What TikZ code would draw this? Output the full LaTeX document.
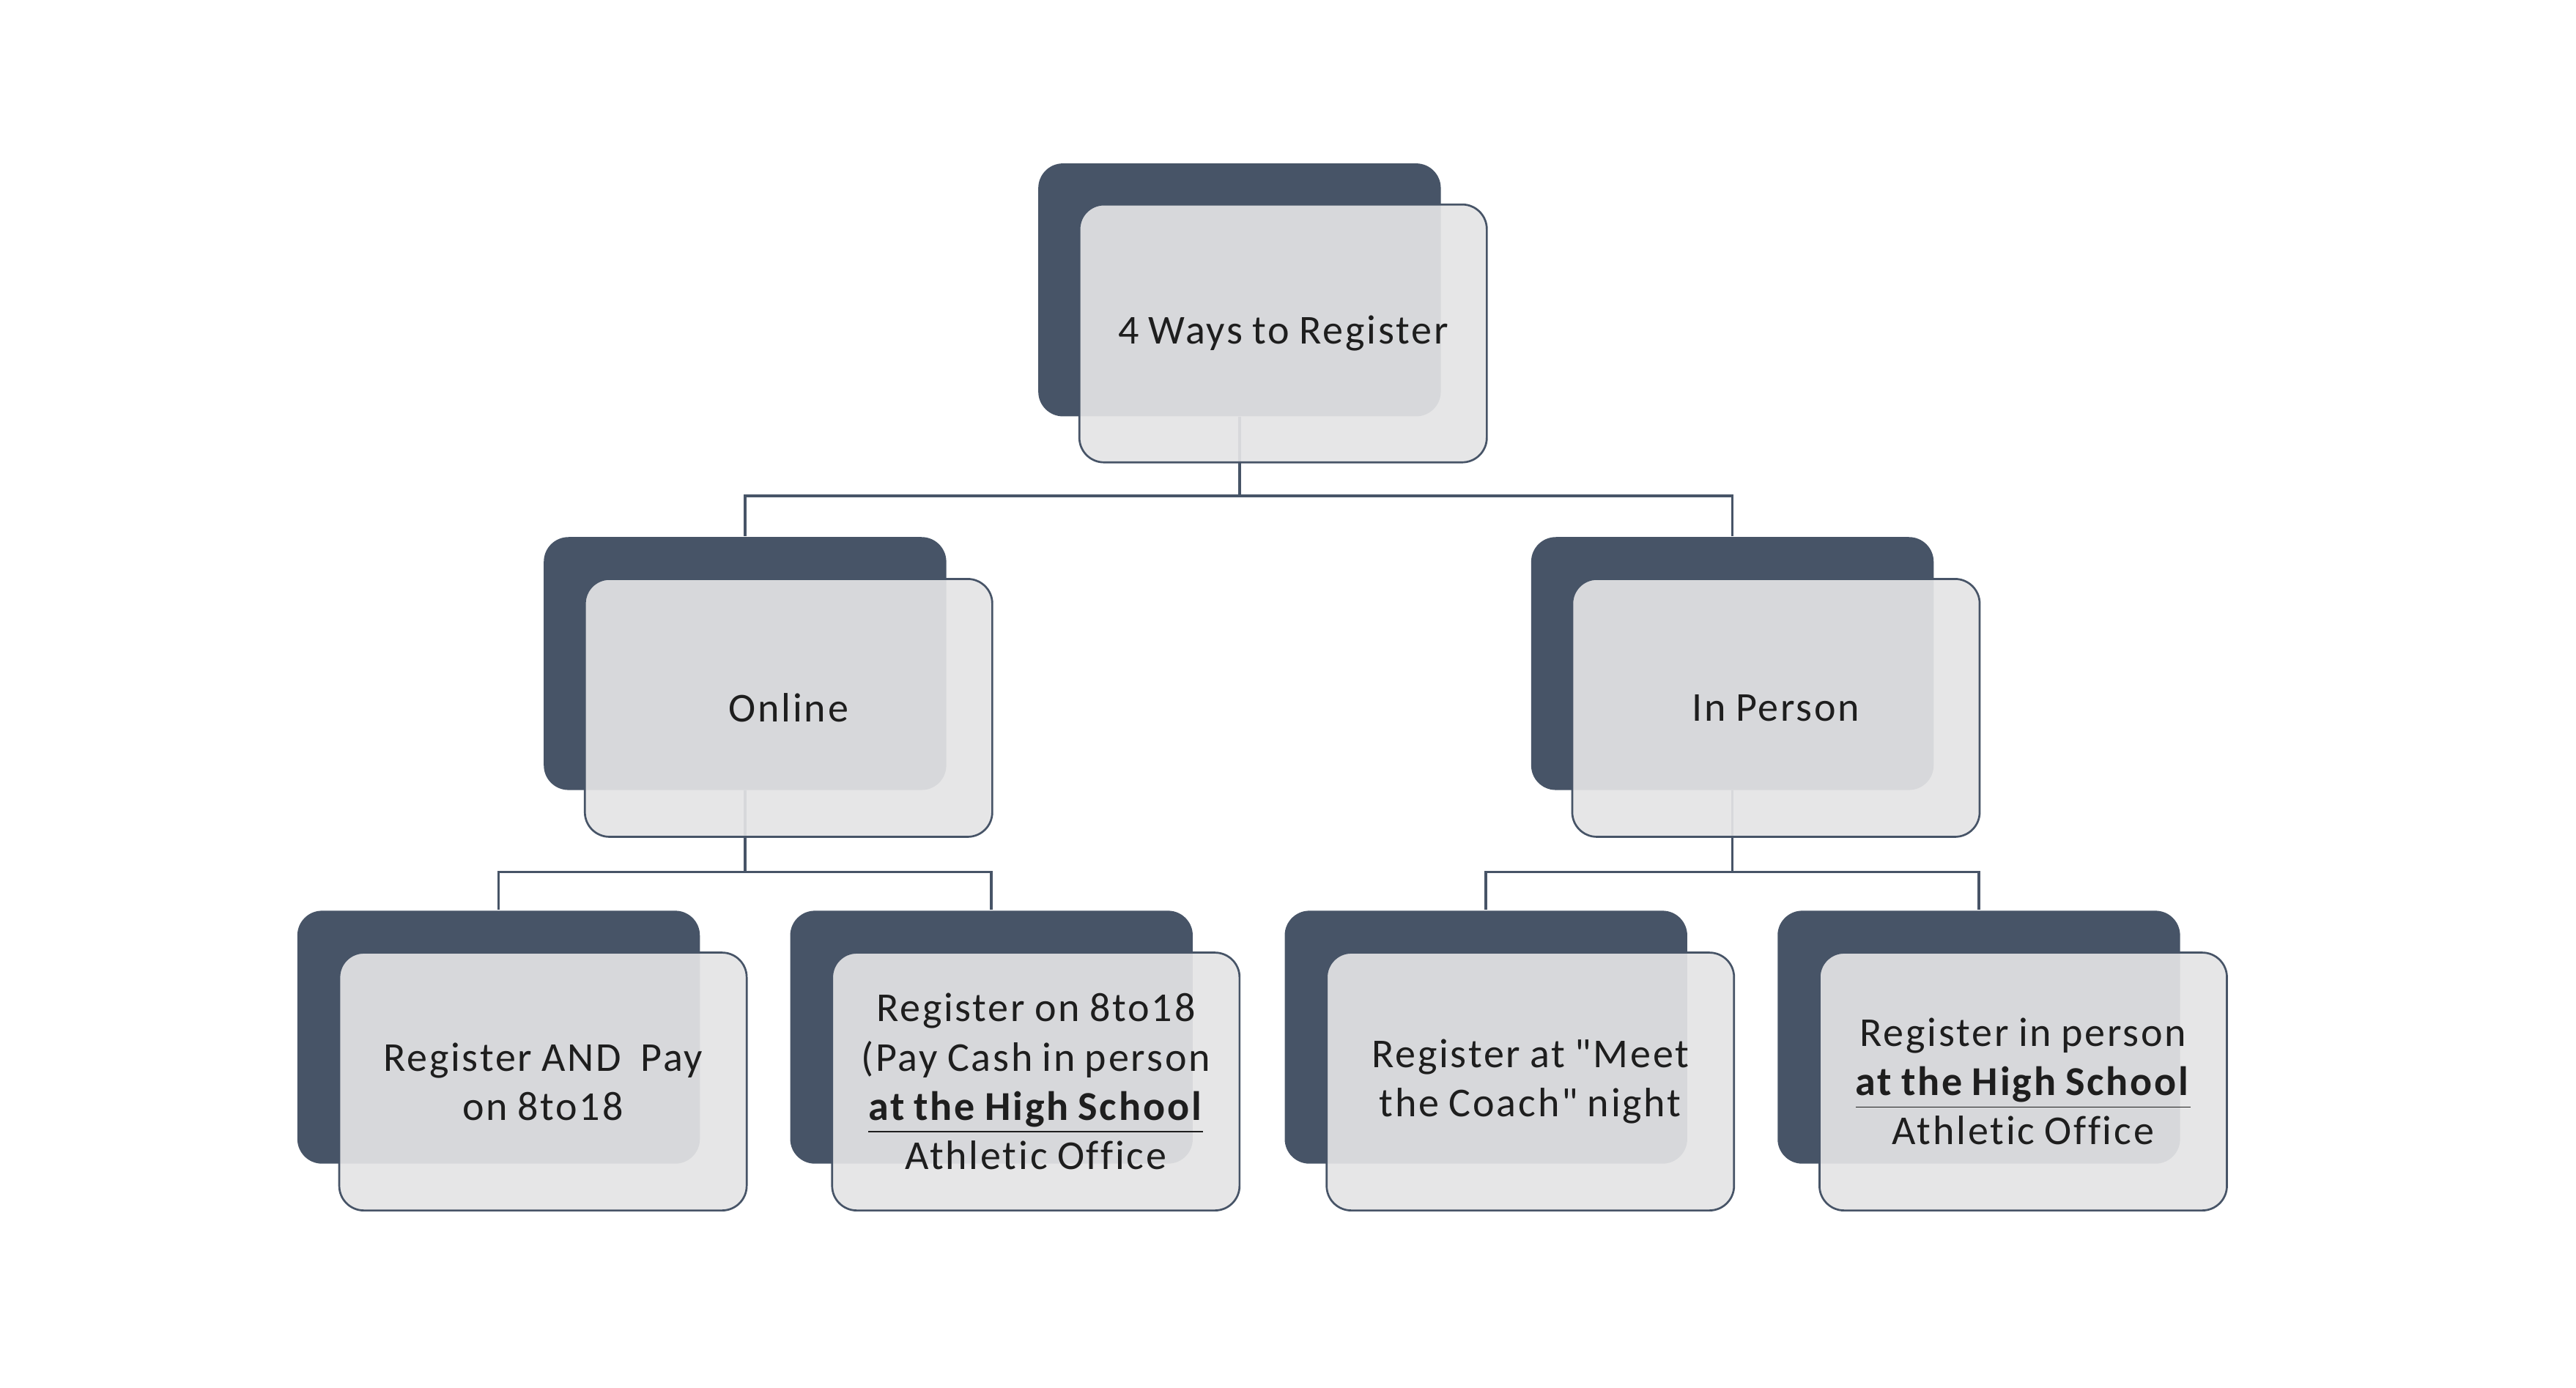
\documentclass[tikz,border=0pt]{standalone}
\usepackage{fontspec}
\setmainfont{Carlito}[Ligatures={TeXOff,CommonOff},LetterSpace=5,WordSpace=0.85]
\definecolor{slate}{RGB}{71,84,103}
\definecolor{paper}{RGB}{228,228,229}
\definecolor{ink}{RGB}{30,30,30}
\begin{document}
\begin{tikzpicture}[x=0.5pt,y=-0.5pt,
  back/.style={draw=none,fill=slate,rounded corners=7.5pt,minimum width=122.5pt,minimum height=77pt,inner sep=0pt},
  front/.style={draw=slate,line width=0.6pt,fill=paper,fill opacity=0.92,text opacity=1,rounded corners=7.5pt,minimum width=124pt,minimum height=78.5pt,inner sep=2pt,align=center,text=ink,font=\fontsize{12.5}{15}\selectfont},
  link/.style={draw=slate,line width=0.8pt}]
\useasboundingbox (0,0) rectangle (1568,845);
% dark backing cards
\node[back] (topd) at (754.5,176.5) {};
\node[back] (onld) at (453.5,404) {};
\node[back] (inpd) at (1054.5,404) {};
\node[back] (b1d) at (303.5,631.5) {};
\node[back] (b2d) at (603.5,631.5) {};
\node[back] (b3d) at (904.5,631.5) {};
\node[back] (b4d) at (1204.5,631.5) {};
% connectors
\coordinate (bus1) at (754.5,302);
\coordinate (bus2) at (453.5,531);
\coordinate (bus3) at (1054.5,531);
\draw[link] (topd.south) -- (bus1) -| (onld.north);
\draw[link] (bus1) -| (inpd.north);
\draw[link] (onld.south) -- (bus2) -| (b1d.north);
\draw[link] (bus2) -| (b2d.north);
\draw[link] (inpd.south) -- (bus3) -| (b3d.north);
\draw[link] (bus3) -| (b4d.north);
% light front cards
\node[front] (top) at (781,203) {4 Ways to Register};
\node[front] (onl) at (480,431) {Online};
\node[front] (inp) at (1081,431) {In Person};
\node[front] (b1) at (330.5,658.5) {Register AND\ \ Pay\\on 8to18};
\node[front] (b2) at (630.5,658.5) {Register on 8to18\\(Pay Cash in person\\\underline{\textbf{at the High School}}\\Athletic Office};
\node[front] (b3) at (931.5,658.5) {Register at "Meet\\the Coach" night};
\node[front] (b4) at (1231.5,658.5) {Register in person\\\underline{\textbf{at the High School}}\\Athletic Office};
\end{tikzpicture}
\end{document}
